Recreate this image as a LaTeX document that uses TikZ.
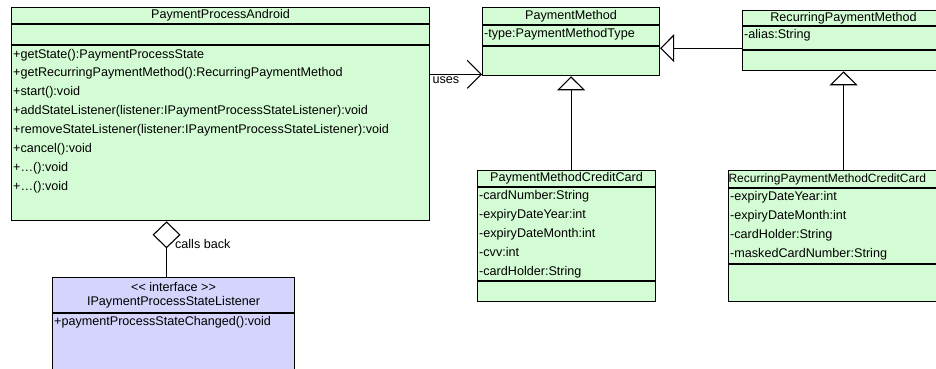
\documentclass[tikz,border=0pt]{standalone}
\usepackage{fontspec}
\setmainfont{Liberation Sans}
\usetikzlibrary{arrows.meta,positioning}
\definecolor{classgreen}{RGB}{212,252,212}
\definecolor{ifaceblue}{RGB}{212,212,252}

\begin{document}
\begin{tikzpicture}[
    x=1pt, y=-1pt,
    node distance=0pt,
    font=\fontsize{12.6}{18.9}\selectfont,
    part/.style={rectangle, draw, line width=1.1pt, fill=classgreen, inner sep=0pt, minimum width=#1},
    members/.style={anchor=north west, align=left, inner xsep=2pt, inner ysep=3.5pt},
    uses/.style={line width=1.1pt, -{Straight Barb[length=14pt, width=28pt]}},
    inherits/.style={line width=1.1pt, -{Triangle[open, length=14pt, width=28pt]}},
    aggregation/.style={line width=1.1pt, {Diamond[open, length=27pt, width=28pt]}-}
]
    \path[use as bounding box, clip] (0,0) rectangle (936,369);

    \node[part=418pt, minimum height=16pt, anchor=north west] (ppa) at (11,7) {PaymentProcessAndroid};
    \node[part=418pt, minimum height=20pt, below=of ppa] (ppa-attr) {};
    \node[part=418pt, minimum height=175pt, below=of ppa-attr] (ppa-ops) {};
    \node[members] (ppa-list) at (ppa-ops.north west) {+getState():PaymentProcessState\\
        +getRecurringPaymentMethod():RecurringPaymentMethod\\
        +start():void\\
        +addStateListener(listener:IPaymentProcessStateListener):void\\
        +removeStateListener(listener:IPaymentProcessStateListener):void\\
        +cancel():void\\
        +…():void\\
        +…():void};

    \node[part=177pt, minimum height=17pt, anchor=north west] (pm) at (482,7) {PaymentMethod};
    \node[part=177pt, minimum height=20pt, below=of pm] (pm-attr) {};
    \node[part=177pt, minimum height=29pt, below=of pm-attr] (pm-ops) {};
    \node[members] (pm-list) at (pm-attr.north west) {-type:PaymentMethodType};

    \node[part=202pt, minimum height=15pt, anchor=north west] (rpm) at (742,10) {RecurringPaymentMethod};
    \node[part=202pt, minimum height=23pt, below=of rpm] (rpm-attr) {};
    \node[part=202pt, minimum height=20pt, below=of rpm-attr] (rpm-ops) {};
    \node[members] (rpm-list) at (rpm-attr.north west) {-alias:String};

    \node[part=178pt, minimum height=16pt, anchor=north west] (pmcc) at (477,170) {PaymentMethodCreditCard};
    \node[part=178pt, minimum height=93pt, below=of pmcc] (pmcc-attr) {};
    \node[part=178pt, minimum height=20pt, below=of pmcc-attr] (pmcc-ops) {};
    \node[members] (pmcc-list) at (pmcc-attr.north west) {-cardNumber:String\\
        -expiryDateYear:int\\
        -expiryDateMonth:int\\
        -cvv:int\\
        -cardHolder:String};

    \node[part=230pt, minimum height=17pt, text width=230pt, align=left, font=\fontsize{12}{14}\selectfont, anchor=north west] (rpmcc) at (728,170) {RecurringPaymentMethodCreditCard};
    \node[part=230pt, minimum height=75pt, below=of rpmcc] (rpmcc-attr) {};
    \node[part=230pt, minimum height=37pt, below=of rpmcc-attr] (rpmcc-ops) {};
    \node[members] (rpmcc-list) at (rpmcc-attr.north west) {-expiryDateYear:int\\
        -expiryDateMonth:int\\
        -cardHolder:String\\
        -maskedCardNumber:String};

    \node[part=242pt, minimum height=35pt, fill=ifaceblue, align=center, font=\fontsize{12.6}{14}\selectfont, anchor=north west] (ipl) at (52,277) {<\kern0pt< interface >\kern0pt>\\IPaymentProcessStateListener};
    \node[part=242pt, minimum height=56pt, fill=ifaceblue, below=of ipl] (ipl-ops) {};
    \node[members] (ipl-list) at (ipl-ops.north west) {+paymentProcessStateChanged():void};

    \coordinate (usesend) at ([yshift=2pt]pm-ops.south west);
    \coordinate (gentip) at ([yshift=-2pt]pm-attr.south east);
    \coordinate (cbend) at ([xshift=-7pt]ipl.north);

    \draw[uses] (ppa-ops.east |- usesend) -- (usesend) node[at start, anchor=north west, inner sep=2pt] (useslbl) {uses};
    \draw[inherits] (rpm-attr.west |- gentip) -- (gentip);
    \draw[inherits] (pmcc.north -| pm-ops.south) -- (pm-ops.south);
    \draw[inherits] (rpmcc.north -| rpm-ops.south) -- (rpm-ops.south);
    \draw[aggregation] (ppa-ops.south -| cbend) -- (cbend) node[pos=0.41, right=7pt, inner sep=1pt] (cblbl) {calls back};
\end{tikzpicture}
\end{document}
